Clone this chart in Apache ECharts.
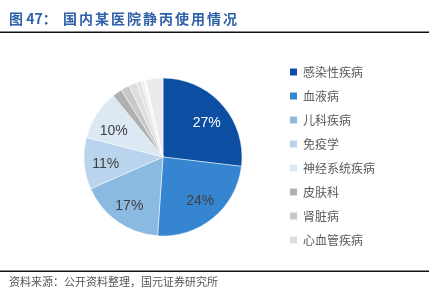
<!DOCTYPE html>
<html><head><meta charset="utf-8">
<script src="https://cdn.jsdelivr.net/npm/echarts@6/dist/echarts.min.js"></script>
<style>html,body{margin:0;padding:0;background:#fff}#c{width:442px;height:294px}</style>
</head><body><div id="c"></div>
<script>
const categories = ['感染性疾病','血液病','儿科疾病','免疫学','神经系统疾病','皮肤科','肾脏病','心血管疾病','其他1','其他2','其他3','其他4'];
const values = [27, 24.3, 17.4, 10.6, 10.2, 2.0, 1.8, 1.6, 1.0, 0.6, 0.4, 3.5];
const legendNames = categories.slice(0, 8);
const colors = ['#0b4ea2','#3585d0','#8ab9e2','#b9d4ec','#dce9f5','#b0b0b0','#c8c8c8','#dedede','#e4e4e4','#eeeeee','#f8f8f8','#ebebeb'];
const labelShown = 5;
const titlePrefix = '图 47：';
const titleMain = '国内某医院静丙使用情况';
const source = '资料来源：公开资料整理，国元证券研究所';

const total = values.reduce((a,b)=>a+b,0);
const labelOffsets = [[0,5],[0,-1],[0,1],[1,2],[0,6]];
const data = categories.map((n,i)=>({name:n, value:values[i], itemStyle:{color:colors[i]}}));
const labelData = categories.map((n,i)=>({
  name:n, value:values[i],
  label:{show:i<labelShown, color: i===0?'#ffffff':'#404040', offset: labelOffsets[i]||[0,0]}
}));

const titleGraphics = [{type:'text', left:9, top:12, style:{text:titlePrefix, fontSize:14, fontWeight:'bold', fill:'#2f62a8', fontFamily:'Noto Sans CJK SC'}}];
titleMain.split('').forEach((ch,k)=>{
  titleGraphics.push({type:'text', left:63+k*16, top:12, style:{text:ch, fontSize:14, fontWeight:'bold', fill:'#2f62a8', fontFamily:'Noto Sans CJK SC'}});
});

const chart = echarts.init(document.getElementById('c'));
chart.setOption({
  animation:false,
  legend:{
    data:legendNames, orient:'vertical', left:283, top:61,
    itemWidth:9, itemHeight:9, itemGap:12, icon:'rect',
    textStyle:{fontSize:12, color:'#5a5a5a', fontFamily:'Noto Sans CJK SC'}
  },
  graphic:titleGraphics.concat([
    {type:'rect', shape:{x:0,y:31.5,width:429,height:1.5}, style:{fill:'#111'}},
    {type:'rect', shape:{x:0,y:270.5,width:429,height:1.5}, style:{fill:'#111'}},
    {type:'text', left:9, top:276, style:{text:source, fontSize:11, fill:'#555', fontFamily:'Noto Sans CJK SC'}}
  ]),
  series:[
    {type:'pie', center:[163,157], radius:[0,79], startAngle:90, clockwise:true,
     data:data, label:{show:false}, labelLine:{show:false},
     itemStyle:{borderColor:'#fff', borderWidth:0.5}, emphasis:{disabled:true}},
    {type:'pie', center:[163,157], radius:[32,79], startAngle:90, clockwise:true, silent:true,
     data:labelData, itemStyle:{color:'rgba(0,0,0,0)'}, labelLine:{show:false},
     label:{position:'inside', fontSize:14, fontFamily:'Liberation Sans',
       formatter:p=>Math.round(p.value/total*100)+'%'},
     emphasis:{disabled:true}}
  ]
});
</script></body></html>
